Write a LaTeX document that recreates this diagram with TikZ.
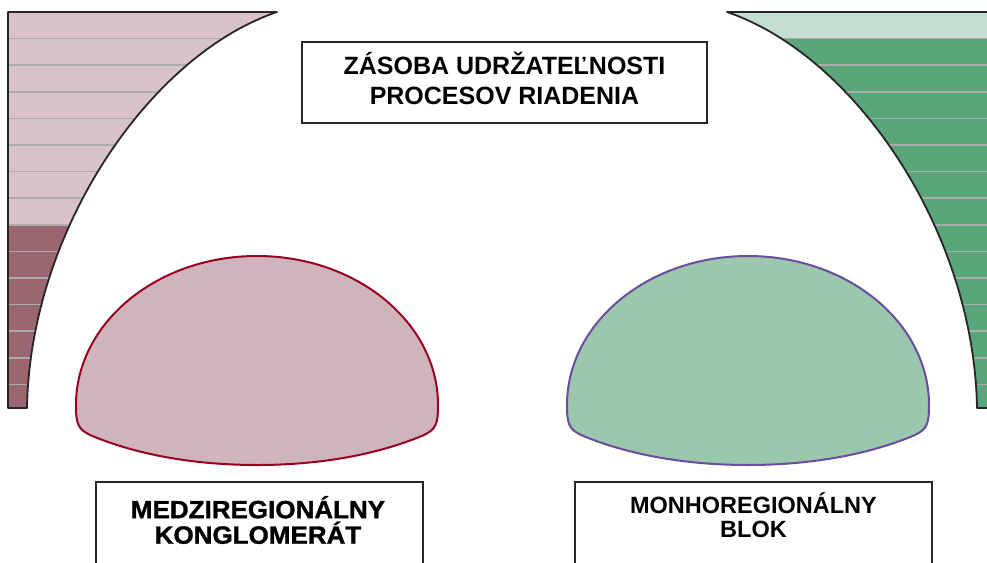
\documentclass[tikz,border=0pt]{standalone}
\usepackage{fontspec}
\setmainfont{Liberation Sans}
\newfontfamily\heavy{Liberation Sans}[BoldFeatures={FakeBold=1.3,FakeStretch=1.04}]
\definecolor{lpink}{HTML}{D9C3C9}
\definecolor{dmauve}{HTML}{9C6671}
\definecolor{bpink}{HTML}{CFB5BB}
\definecolor{bred}{HTML}{990022}
\definecolor{lgreen}{HTML}{C4DFD1}
\definecolor{dgreen}{HTML}{58A67A}
\definecolor{bgreen}{HTML}{9BC7AC}
\definecolor{bpurple}{HTML}{6A4CA0}
\tikzset{
  stripe/.style={draw=gray!65!white, line width=1.7pt},
  outline/.style={draw=black!85, line width=1.8pt, line join=round},
  labelbox/.style={draw=black!85, line width=1.9pt, fill=white, inner sep=0pt},
  bump/.style={line width=2pt},
}
\begin{document}
\begin{tikzpicture}[x=1pt,y=-1pt]
\useasboundingbox (0,0) rectangle (987,562);
\fill[white] (0,0) rectangle (987,562);
\clip (0,0) rectangle (987,562);
% left reservoir
\begin{scope}
\clip (8,12) -- (277,12) .. controls (150,55) and (30,230) .. (27,408) -- (8,408) -- cycle;
\fill[lpink] (0,0) rectangle (300,224.8);
\fill[dmauve] (0,224.8) rectangle (300,420);
\foreach \k in {1,...,14} \draw[stripe] (0,{12+26.6*\k}) -- (300,{12+26.6*\k});
\end{scope}
\draw[outline] (8,12) -- (277,12) .. controls (150,55) and (30,230) .. (27,408) -- (8,408) -- cycle;
% right reservoir
\begin{scope}
\clip (996,12) -- (727,12) .. controls (854,55) and (974,230) .. (977,408) -- (996,408) -- cycle;
\fill[lgreen] (700,0) rectangle (1000,38.6);
\fill[dgreen] (700,38.6) rectangle (1000,420);
\foreach \k in {1,...,14} \draw[stripe] (700,{12+26.6*\k}) -- (1000,{12+26.6*\k});
\end{scope}
\draw[outline] (996,12) -- (727,12) .. controls (854,55) and (974,230) .. (977,408) -- (996,408) -- cycle;
% bumps
\draw[bump, draw=bred, fill=bpink] (76,405) .. controls (76,323) and (157,256) .. (257,256) .. controls (357,256) and (438,323) .. (438,405) .. controls (438,424) and (436,429) .. (424,435) .. controls (372,457) and (312,465) .. (257,465) .. controls (202,465) and (142,457) .. (90,435) .. controls (78,429) and (76,424) .. (76,405) -- cycle;
\begin{scope}[shift={(491,0)}]
\draw[bump, draw=bpurple, fill=bgreen] (76,405) .. controls (76,323) and (157,256) .. (257,256) .. controls (357,256) and (438,323) .. (438,405) .. controls (438,424) and (436,429) .. (424,435) .. controls (372,457) and (312,465) .. (257,465) .. controls (202,465) and (142,457) .. (90,435) .. controls (78,429) and (76,424) .. (76,405) -- cycle;
\end{scope}
% boxes
\node[labelbox, minimum width=405pt, minimum height=81pt] (topbox) at (504.5,82.5) {};
\node[align=center, font=\fontsize{25}{30}\selectfont\bfseries] (toptext) at (504.5,78) {ZÁSOBA UDRŽATEĽNOSTI\\PROCESOV RIADENIA};
\node[labelbox, minimum width=327pt, minimum height=100pt] (leftbox) at (259.5,532) {};
\node[align=center, font=\fontsize{25}{25.5}\selectfont\heavy\bfseries] (lefttext) at (258,520) {MEDZIREGIONÁLNY\\KONGLOMERÁT};
\node[align=center, font=\fontsize{23.5}{24.5}\selectfont\bfseries] (righttext) at (753.5,515) {MONHOREGIONÁLNY\\BLOK};
\node[labelbox, minimum width=357pt, minimum height=100pt, fill=none] (rightbox) at (753.5,532) {};
\end{tikzpicture}
\end{document}
